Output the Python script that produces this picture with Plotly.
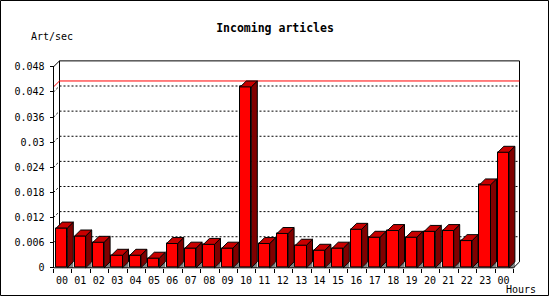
import plotly.graph_objects as go

# ---- data ----
hours = ["00", "01", "02", "03", "04", "05", "06", "07", "08", "09", "10", "11",
         "12", "13", "14", "15", "16", "17", "18", "19", "20", "21", "22", "23", "00"]
art_per_sec = [0.0095, 0.0076, 0.0061, 0.0030, 0.0030, 0.0023, 0.0058, 0.0047,
               0.0056, 0.0047, 0.0432, 0.0058, 0.0082, 0.0054, 0.0042, 0.0047,
               0.0092, 0.0073, 0.0089, 0.0073, 0.0087, 0.0089, 0.0065, 0.0198,
               0.0276]
ytick_vals = [0, 0.006, 0.012, 0.018, 0.024, 0.03, 0.036, 0.042, 0.048]
ytick_text = ["0", "0.006", "0.012", "0.018", "0.024", "0.03", "0.036", "0.042", "0.048"]

# ---- geometry (pixels) ----
W, H = 550, 300
X0PX, Y0PX = 53.5, 270.5          # front origin
SX = 18.4                          # px per category slot
YMAX = ytick_vals[-1]
SY = 203.0 / YMAX                  # px per unit value
DEPTH = 6.0
dx = DEPTH / SX
dy = DEPTH / SY
N = len(hours)
BAR_W = 0.6
BAR_OFF = 0.45

PL, PR, PT, PB = 51, 523, 57, 273  # plot area in px
xr = [(PL - X0PX) / SX, (PR - X0PX) / SX]
yr = [(Y0PX - PB) / SY, (Y0PX - PT) / SY]
xdom = [PL / W, PR / W]
ydom = [(H - PB) / H, (H - PT) / H]

FONT = "DejaVu Sans Mono"

fig = go.Figure()

# front faces
xc = [i + BAR_OFF for i in range(N)]
fig.add_trace(go.Bar(x=xc, y=art_per_sec, width=BAR_W,
                     marker=dict(color="#FF0000", line=dict(color="black", width=1)),
                     hoverinfo="skip", showlegend=False))

# floor shadows, side faces, top faces
gx, gy, sx_, sy_, tx, ty = [], [], [], [], [], []
for i, v in enumerate(art_per_sec):
    x0 = i + BAR_OFF - BAR_W / 2
    x1 = i + BAR_OFF + BAR_W / 2
    gx += [x1, x1 + dx, x1 + dx, x1, None]
    gy += [0, dy, 0, 0, None]
    sx_ += [x1, x1 + dx, x1 + dx, x1, x1, None]
    sy_ += [0, dy, v + dy, v, 0, None]
    tx += [x0, x0 + dx, x1 + dx, x1, x0, None]
    ty += [v, v + dy, v + dy, v, v, None]

fig.add_trace(go.Scatter(x=gx, y=gy, mode="lines", fill="toself", fillcolor="#808080",
                         line=dict(width=0, color="#808080"), hoverinfo="skip", showlegend=False))
fig.add_trace(go.Scatter(x=sx_, y=sy_, mode="lines", fill="toself", fillcolor="#800000",
                         line=dict(width=1, color="black"), hoverinfo="skip", showlegend=False))
fig.add_trace(go.Scatter(x=tx, y=ty, mode="lines", fill="toself", fillcolor="#C80000",
                         line=dict(width=1, color="black"), hoverinfo="skip", showlegend=False))
# carrier for label axis
fig.add_trace(go.Scatter(x=[None], y=[None], xaxis="x2", mode="lines", showlegend=False,
                         hoverinfo="skip"))

shapes = []
def seg(x0, y0, x1, y1, color="black", dash="solid", layer="below", w=1):
    shapes.append(dict(type="line", xref="x", yref="y", x0=x0, y0=y0, x1=x1, y1=y1,
                       line=dict(color=color, width=w, dash=dash), layer=layer))

DOT = "2px,2px"
# back wall frame
top = YMAX + dy
seg(dx, dy, dx, top)
seg(dx, top, N + dx, top)
seg(N + dx, dy, N + dx, top)
# gridlines on back wall
for v in ytick_vals[1:-1]:
    seg(0, v, dx, v + dy, dash=DOT)
    seg(dx, v + dy, N + dx, v + dy, dash=DOT)
# max line
vmax = max(art_per_sec)
seg(0, vmax, dx, vmax + dy, color="#FF0000")
seg(dx, vmax + dy, N + dx, vmax + dy, color="#FF0000")
# front axes
seg(0, 0, 0, YMAX, layer="above")
seg(0, 0, N, 0, layer="above")
seg(0, YMAX, dx, top, layer="above")
seg(N, 0, N + dx, dy, layer="above")

# outer border
shapes.append(dict(type="rect", xref="paper", yref="paper",
                   x0=0.5 / W, x1=548.5 / W, y0=(H - 298.5) / H, y1=(H - 0.5) / H,
                   line=dict(color="black", width=1), fillcolor="rgba(0,0,0,0)", layer="above"))

fig.update_layout(
    width=W, height=H,
    margin=dict(l=0, r=0, t=0, b=0),
    paper_bgcolor="white", plot_bgcolor="rgba(0,0,0,0)",
    bargap=0,
    shapes=shapes,
    title=dict(text="Incoming articles", x=0.5, xref="paper", xanchor="center",
               y=1 - 28 / H, yref="paper", yanchor="middle",
               font=dict(family=FONT, size=11.5, color="black", weight="bold")),
    xaxis=dict(domain=xdom, range=xr, anchor="free", position=(H - Y0PX) / H,
               tickmode="array", tickvals=list(range(N + 1)), ticktext=[""] * (N + 1),
               ticks="outside", ticklen=4, tickcolor="black", tickwidth=1,
               showline=False, showgrid=False, zeroline=False, fixedrange=True),
    xaxis2=dict(domain=xdom, range=xr, overlaying="x", anchor="free", position=(H - Y0PX) / H,
                side="bottom", tickmode="array",
                tickvals=[i + 0.46 for i in range(N)], ticktext=hours,
                ticks="", showline=False, showgrid=False, zeroline=False,
                tickfont=dict(family=FONT, size=10, color="black"), ticklabelstandoff=5),
    yaxis=dict(domain=ydom, range=yr, anchor="free", position=X0PX / W,
               tickmode="array", tickvals=ytick_vals, ticktext=ytick_text,
               ticks="outside", ticklen=4, tickcolor="black", tickwidth=1,
               showline=False, showgrid=False, zeroline=False,
               tickfont=dict(family=FONT, size=10, color="black"), ticklabelstandoff=3),
    annotations=[
        dict(text="Art/sec", xref="paper", yref="paper", x=29 / W, y=1 - 37 / H,
             xanchor="left", yanchor="middle", showarrow=False,
             font=dict(family=FONT, size=10, color="black")),
        dict(text="Hours", xref="paper", yref="paper", x=504 / W, y=1 - 292 / H,
             xanchor="left", yanchor="middle", showarrow=False,
             font=dict(family=FONT, size=10, color="black")),
    ],
)

fig.write_html("out.html")
